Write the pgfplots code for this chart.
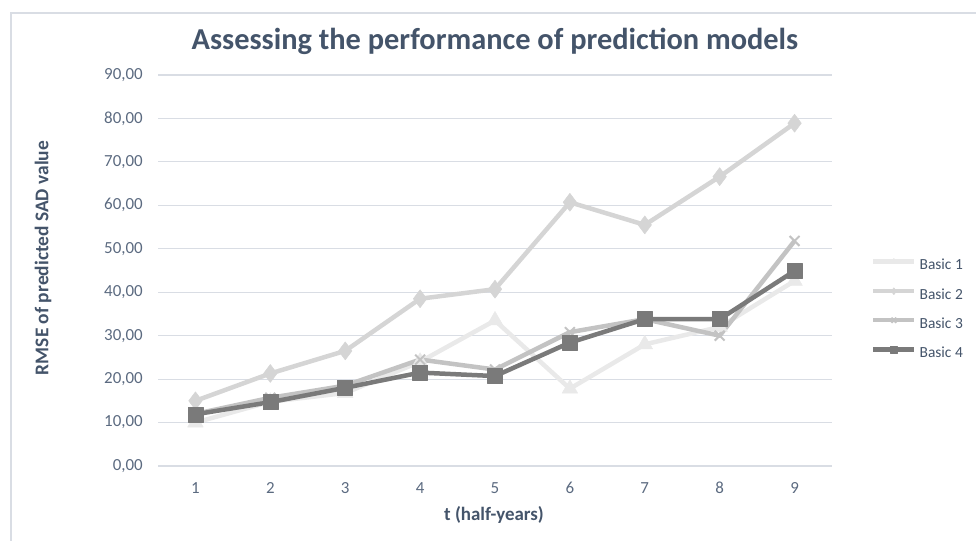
\documentclass[border=0pt]{standalone}
\usepackage{fontspec}
\setmainfont{Carlito}
\usepackage{pgfplots}
\pgfplotsset{compat=1.18}
\definecolor{txt}{HTML}{44546A}
\definecolor{tck}{HTML}{5B6A80}
\definecolor{grd}{HTML}{D9DDE4}
\definecolor{cA}{HTML}{E9E9E9}
\definecolor{cB}{HTML}{D5D5D5}
\definecolor{cC}{HTML}{C3C3C3}
\definecolor{cD}{HTML}{7A7A7A}
\begin{document}
\begin{tikzpicture}
\path[use as bounding box] (0bp,0bp) rectangle (976bp,541bp);
\draw[grd, line width=1.3bp] (11bp,-5bp) -- (11bp,528bp) -- (990bp,528bp);
\begin{axis}[
  at={(158bp,75bp)}, anchor=south west,
  scale only axis, width=674bp, height=391bp,
  xmin=0.5, xmax=9.5, ymin=0, ymax=90,
  xtick={1,...,9}, xticklabels={1,2,3,4,5,6,7,8,9},
  ytick={0,10,...,90},
  yticklabels={{0,00},{10,00},{20,00},{30,00},{40,00},{50,00},{60,00},{70,00},{80,00},{90,00}},
  major tick length=0pt,
  axis line style={draw=none},
  ymajorgrids, grid style={grd, line width=1.2bp},
  ticklabel style={font=\fontsize{17}{20}\selectfont, text=tck},
  yticklabel style={anchor=east, inner sep=0pt, xshift=-15bp},
  xticklabel style={anchor=north, inner sep=0pt, yshift=-16bp},
  xlabel={t (half-years)},
  xlabel style={at={(axis description cs:0.4985,-0.1253)}, anchor=center, font=\bfseries\fontsize{19}{22}\selectfont, text=txt},
  ylabel={RMSE of predicted SAD value},
  ylabel style={at={(axis description cs:-0.1706,0.532)}, anchor=center, font=\bfseries\fontsize{19.5}{22}\selectfont, text=txt},
  title={Assessing the performance of prediction models},
  title style={at={(axis description cs:0.5,1.051)}, anchor=base, font=\bfseries\fontsize{30.5}{34}\selectfont, text=txt},
  legend style={at={(axis description cs:1.0533,0.537)}, anchor=north west, draw=none, fill=none,
    font=\fontsize{15.5}{18}\selectfont, text=txt, row sep=15bp, column sep=3bp,
    nodes={inner sep=0pt, text height=11bp, text depth=3bp}},
  legend cell align=left,
  legend image code/.code={\draw[mark repeat=2, mark phase=2, #1, mark size=3.5bp] plot coordinates {(0bp,4bp) (20.5bp,4bp) (41bp,4bp)};},
  every axis plot/.append style={line width=4.5bp, line join=round},
]
\addplot[cA, mark=triangle*, mark size=9bp, mark options={fill=cA, line width=0.5bp}] coordinates {
(1,10.0) (2,14.8) (3,16.8) (4,24.0) (5,33.5) (6,17.8) (7,28.0) (8,32.0) (9,42.6)};
\addlegendentry{Basic 1}
\addplot[cB, mark=diamond*, mark size=9bp, mark options={fill=cB, line width=0.5bp}] coordinates {
(1,15.0) (2,21.3) (3,26.5) (4,38.5) (5,40.7) (6,60.7) (7,55.5) (8,66.6) (9,78.9)};
\addlegendentry{Basic 2}
\addplot[cC, mark=x, mark size=7bp, mark options={line width=2bp}] coordinates {
(1,12.0) (2,15.7) (3,18.5) (4,24.5) (5,22.2) (6,30.8) (7,33.8) (8,30.0) (9,51.8)};
\addlegendentry{Basic 3}
\addplot[cD, mark=square*, mark size=7.5bp, mark options={fill=cD, line width=0.5bp}] coordinates {
(1,11.9) (2,14.7) (3,18.0) (4,21.5) (5,20.7) (6,28.4) (7,33.8) (8,33.8) (9,44.9)};
\addlegendentry{Basic 4}
\end{axis}
\end{tikzpicture}
\end{document}
